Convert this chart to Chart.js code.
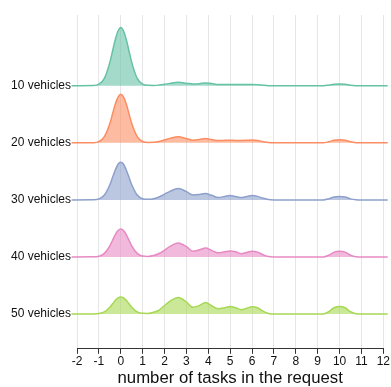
<!DOCTYPE html>
<html>
<head>
<meta charset="utf-8">
<script src="https://cdn.jsdelivr.net/npm/chart.js@4/dist/chart.umd.min.js"></script>
<style>
  html, body { margin: 0; padding: 0; background: #ffffff; }
  #wrap { width: 391px; height: 387px; }
</style>
</head>
<body>
<div id="wrap"><canvas id="ridges"></canvas></div>
<script>
// Sample positions (number of tasks) where each density curve is evaluated
const taskGrid = [-2.25, -1.25, -1, -0.75, -0.5, -0.375, -0.25, -0.125, 0, 0.125, 0.25, 0.375, 0.5, 0.75, 1,
  1.25, 1.5, 1.75, 2, 2.25, 2.625, 3, 3.3, 3.6, 3.875, 4.15, 4.45, 4.75, 5, 5.25, 5.5, 5.75, 6, 6.25, 6.5, 6.75, 7,
  9.25, 9.5, 9.75, 10, 10.25, 10.5, 10.75, 11, 12.2];

// Fleet sizes, top ridge first
const fleetLabels = ['10 vehicles', '20 vehicles', '30 vehicles', '40 vehicles', '50 vehicles'];

// Density of the number of tasks per request, one array per fleet size
const density10 = [0, 0.003, 0.027, 0.13, 0.41, 0.61, 0.81, 0.96, 1.02, 0.96, 0.81, 0.61, 0.41, 0.13, 0.03,
  0.007, 0.005, 0.012, 0.025, 0.042, 0.06, 0.045, 0.03, 0.036, 0.05, 0.038, 0.022, 0.022, 0.023, 0.022, 0.021, 0.022,
  0.023, 0.02, 0.01, 0.002, 0,
  0, 0.01, 0.026, 0.03, 0.026, 0.01, 0.002, 0, 0];
const density20 = [0, 0.003, 0.022, 0.11, 0.34, 0.51, 0.68, 0.80, 0.85, 0.80, 0.68, 0.51, 0.34, 0.11, 0.024,
  0.008, 0.01, 0.025, 0.05, 0.078, 0.105, 0.075, 0.047, 0.06, 0.075, 0.058, 0.04, 0.044, 0.047, 0.043, 0.04, 0.046,
  0.05, 0.042, 0.02, 0.004, 0,
  0, 0.018, 0.045, 0.052, 0.045, 0.018, 0.003, 0, 0];
const density30 = [0, 0.002, 0.017, 0.085, 0.265, 0.395, 0.525, 0.625, 0.66, 0.625, 0.525, 0.395, 0.265, 0.085, 0.02,
  0.01, 0.02, 0.05, 0.10, 0.15, 0.20, 0.145, 0.087, 0.095, 0.11, 0.08, 0.042, 0.06, 0.076, 0.06, 0.04, 0.06,
  0.076, 0.062, 0.03, 0.006, 0,
  0, 0.018, 0.05, 0.058, 0.05, 0.018, 0.003, 0, 0];
const density40 = [0, 0.002, 0.013, 0.063, 0.196, 0.293, 0.39, 0.463, 0.49, 0.463, 0.39, 0.293, 0.196, 0.063, 0.015,
  0.01, 0.025, 0.06, 0.12, 0.185, 0.245, 0.18, 0.10, 0.125, 0.157, 0.115, 0.072, 0.09, 0.105, 0.09, 0.058, 0.08,
  0.10, 0.085, 0.04, 0.008, 0,
  0, 0.03, 0.085, 0.10, 0.085, 0.03, 0.004, 0, 0];
const density50 = [0, 0.001, 0.008, 0.038, 0.12, 0.18, 0.24, 0.283, 0.30, 0.283, 0.24, 0.18, 0.12, 0.038, 0.012,
  0.01, 0.03, 0.07, 0.15, 0.225, 0.29, 0.21, 0.117, 0.15, 0.20, 0.145, 0.093, 0.11, 0.13, 0.11, 0.076, 0.10,
  0.128, 0.11, 0.05, 0.01, 0,
  0, 0.04, 0.11, 0.134, 0.11, 0.04, 0.005, 0, 0];

// x-axis tick values
const taskTicks = [-2, -1, 0, 1, 2, 3, 4, 5, 6, 7, 8, 9, 10, 11, 12];

const densities = [density10, density20, density30, density40, density50];
const lineColors = ['#66c2a5', '#fc8d62', '#8da0cb', '#e78ac3', '#a6d854'];
const fillColors = ['rgba(102,194,165,0.6)', 'rgba(252,141,98,0.6)', 'rgba(141,160,203,0.6)',
                    'rgba(231,138,195,0.6)', 'rgba(166,216,84,0.6)'];

// each ridge sits on its own baseline; the top ridge has the highest baseline
const baselineOf = i => fleetLabels.length - 1 - i;

const datasets = fleetLabels.map((name, i) => {
  const base = baselineOf(i);
  return {
    label: name,
    data: taskGrid.map((x, k) => ({ x: x, y: base + densities[i][k] })),
    borderColor: lineColors[i],
    backgroundColor: fillColors[i],
    borderWidth: 1.5,
    pointRadius: 0,
    cubicInterpolationMode: 'monotone',
    fill: { value: base },
    clip: false
  };
});

const FONT = '"Liberation Sans", Arial, Helvetica, sans-serif';

new Chart(document.getElementById('ridges'), {
  type: 'line',
  data: { datasets },
  options: {
    responsive: true,
    maintainAspectRatio: false,
    animation: false,
    events: [],
    layout: { padding: { top: 15, left: 5, right: 7, bottom: 0 } },
    plugins: { legend: { display: false }, tooltip: { enabled: false } },
    scales: {
      x: {
        type: 'linear',
        min: taskTicks[0],
        max: taskTicks[taskTicks.length - 1],
        afterBuildTicks: s => { s.ticks = taskTicks.map(v => ({ value: v })); },
        ticks: {
          color: '#111',
          font: { family: FONT, size: 12 },
          padding: 1,
          maxRotation: 0,
          autoSkip: false,
          callback: v => String(v)
        },
        grid: { color: '#e6e6e6', lineWidth: 1, tickColor: '#333', tickLength: 5 },
        border: { display: true, color: '#333', width: 1 },
        title: {
          display: true,
          text: 'number of tasks in the request',
          color: '#111',
          font: { family: FONT, size: 16.75, lineHeight: 1 },
          padding: { top: 0, bottom: 0 }
        }
      },
      y: {
        type: 'linear',
        min: -0.61,
        max: 5.24,
        afterBuildTicks: s => { s.ticks = fleetLabels.map((_, i) => ({ value: baselineOf(i) })); },
        ticks: {
          color: '#111',
          font: { family: FONT, size: 12 },
          padding: 6,
          callback: v => fleetLabels[fleetLabels.length - 1 - v]
        },
        grid: { display: false, drawTicks: false },
        border: { display: false }
      }
    }
  }
});
</script>
</body>
</html>
